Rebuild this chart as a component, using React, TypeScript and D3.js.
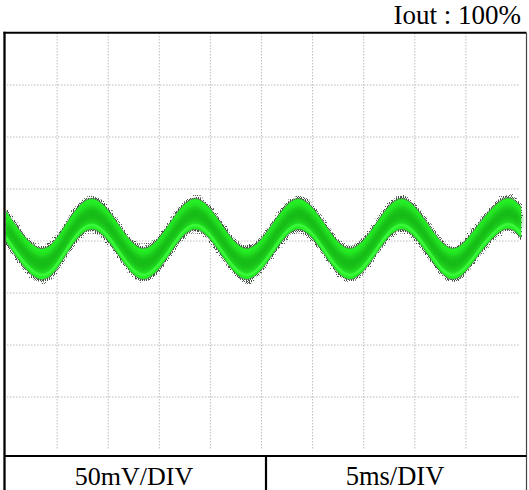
import React from "react";
import * as d3 from "d3";

// scope trace: time in ms, voltage in mV (0 = centre graticule line)
const traceTime = [0, 3.35, 5.9, 8.4, 10.95, 13.45, 16.0, 18.5, 21.05, 23.55, 26.1, 28.6, 31.15, 33.65, 36.2, 38.7, 41.25, 43.75, 46.3, 48.8, 50.4];
const traceVolt = [14, -22, 2, 26, 2, -22, 2, 26, 2, -22, 2, 26, 2, -22, 2, 26, 2, -22, 2, 26, 18];
// half height of the noisy band around the ripple, mV
const noiseBand = 14.5;
const noiseSpike = 17.5;

const timeTicks = [5, 10, 15, 20, 25, 30, 35, 40, 45];
const voltTicks = [-150, -100, -50, 0, 50, 100, 150];

const title = "Iout : 100%";
const voltLabel = "50mV/DIV";
const timeLabel = "5ms/DIV";

const W = 529;
const H = 490;

export default function App() {
	const x = d3.scaleLinear().domain([0, 50]).range([6, 517]);
	const y = d3.scaleLinear().domain([-200, 200]).range([449, 33]);

	const pts: [number, number][] = traceTime.map((t, i) => [t, traceVolt[i]]);

	const band = (h: number) =>
		d3
			.area<[number, number]>()
			.x((d) => x(d[0]))
			.y0((d) => y(d[1] - h))
			.y1((d) => y(d[1] + h))
			.curve(d3.curveNatural)(pts) ?? "";

	const centre =
		d3
			.line<[number, number]>()
			.x((d) => x(d[0]))
			.y((d) => y(d[1]))
			.curve(d3.curveNatural)(pts) ?? "";

	const frameL = 4.5;
	const frameR = 526.5;
	const frameT = 32.7;
	const plotB = 456;
	const divX = 266;

	return (
		<svg
			width={W}
			height={H}
			style={{ position: "absolute", left: 0, top: 0, background: "#fff" }}
			fontFamily="'Liberation Serif', 'Times New Roman', serif"
		>
			<defs>
				<pattern id="hatch" width="2" height="4" patternUnits="userSpaceOnUse">
					<rect x="0" y="0" width="1" height="4" fill="#1e2b1e" />
				</pattern>
				<filter id="noise" x="-5%" y="-20%" width="110%" height="140%">
					<feTurbulence type="fractalNoise" baseFrequency="0.05 0.9" numOctaves="2" seed="7" result="t" />
					<feDisplacementMap in="SourceGraphic" in2="t" scale="7" xChannelSelector="R" yChannelSelector="G" />
				</filter>
				<filter id="soft">
					<feGaussianBlur stdDeviation="2.5" />
				</filter>
				<clipPath id="plot">
					<rect x={frameL + 1} y={frameT + 1} width={frameR - frameL - 2} height={plotB - frameT - 2} />
				</clipPath>
			</defs>

			{/* graticule */}
			<g stroke="#bdbdbd" strokeWidth={1} strokeDasharray="1.5 1.5">
				{timeTicks.map((t) => (
					<line key={"v" + t} x1={x(t)} x2={x(t)} y1={y(200)} y2={y(-200)} />
				))}
				{voltTicks.map((v) => (
					<line key={"h" + v} x1={x(0) + 1} x2={520} y1={y(v)} y2={y(v)} />
				))}
			</g>

			{/* trace */}
			<g clipPath="url(#plot)">
				<path d={band(noiseSpike)} fill="url(#hatch)" opacity={0.8} filter="url(#noise)" />
				<path d={band(noiseBand + 1)} fill="#3a6a3a" opacity={0.7} />
				<path d={band(noiseBand)} fill="#26f026" />
				<path d={band(noiseBand * 0.55)} fill="#16b016" opacity={0.7} filter="url(#soft)" />
				<path d={centre} fill="none" stroke="#119211" strokeWidth={3} opacity={0.3} filter="url(#soft)" />
				<path d={centre} fill="none" stroke="#44ff44" strokeWidth={2.5} opacity={0.7} transform="translate(0,11)" />
			</g>

			{/* frame */}
			<g stroke="#000" fill="none">
				<line x1={frameL} x2={frameL} y1={frameT - 1} y2={H} strokeWidth={2.3} />
				<line x1={frameL - 1} x2={frameR} y1={frameT} y2={frameT} strokeWidth={2} />
				<line x1={frameR} x2={frameR} y1={frameT} y2={H} strokeWidth={1.2} stroke="#444" />
				<line x1={frameL} x2={frameR} y1={plotB} y2={plotB} strokeWidth={2.2} />
				<line x1={divX} x2={divX} y1={plotB} y2={H} strokeWidth={2.2} />
			</g>

			<text x={521} y={24} textAnchor="end" fontSize={27} fill="#000">
				{title}
			</text>
			<text x={134} y={485} textAnchor="middle" fontSize={26} fill="#000">
				{voltLabel}
			</text>
			<text x={395} y={485} textAnchor="middle" fontSize={26.5} fill="#000">
				{timeLabel}
			</text>
		</svg>
	);
}
